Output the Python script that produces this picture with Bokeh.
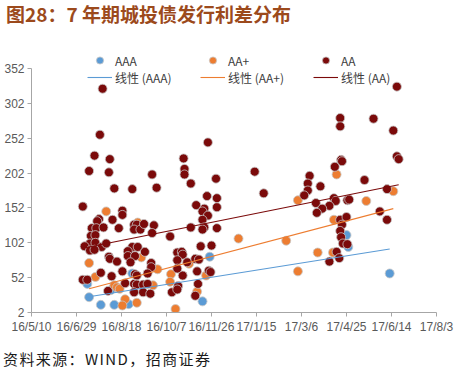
import numpy as np
import pandas as pd
from bokeh.plotting import figure
from bokeh.layouts import column
from bokeh.models import Range1d, FixedTicker, Legend, LegendItem, Div
from bokeh.embed import file_html
from bokeh.resources import INLINE

# ---------------- data (x = days since 2016-05-10, y = spread in bp) ----------------
base_date = "2016-05-10"
tick_dates = ["2016-05-10", "2016-06-29", "2016-08-18", "2016-10-07", "2016-11-26",
              "2017-01-15", "2017-03-06", "2017-04-25", "2017-06-14", "2017-08-03"]
tick_labels = ["16/5/10", "16/6/29", "16/8/18", "16/10/7", "16/11/26",
               "17/1/15", "17/3/6", "17/4/25", "17/6/14", "17/8/3"]
y_ticks = [2, 52, 102, 152, 202, 252, 302, 352]

aaa_days = [62, 64, 77, 92, 108, 112, 198, 190, 350, 352, 398, 88]
aaa_spread = [43, 24, 13, 13, 14, 58, 82, 18, 113, 96, 58, 34]

aap_days = [83, 118, 64, 122, 71, 140, 155, 92, 95, 98, 135, 154, 104, 101, 117,
            160, 175, 194, 230, 283, 184, 296, 339, 372, 402, 336, 318, 335, 296]
aap_spread = [147, 131, 73, 81, 53, 64, 57, 41, 38, 36, 41, 46, 21, 12, 16,
              7, 72, 55, 108, 105, 32, 163, 200, 162, 176, 135, 88, 88, 61]

aa_days = [79, 76, 70, 87, 64, 86, 134, 92, 112, 139, 57,
           196, 169, 170, 170, 205, 177, 248, 195, 206, 258,
           101, 101, 75, 73, 90, 114, 117, 136, 67, 72, 80, 97, 114, 121, 134, 66, 71, 154,
           65, 71, 59, 78, 83, 65, 70, 112, 118, 107, 86, 87, 107, 115, 95, 110, 133, 133,
           101, 77, 89, 115, 117, 129, 57, 62, 104, 114, 117, 124, 129, 85, 114, 124, 132, 156, 163,
           183, 206, 192, 190, 196, 190, 192, 190, 177, 206, 188, 200, 162, 167, 168, 162, 173,
           182, 186, 168, 184, 197, 199, 185, 162, 182,
           406, 343, 343, 380, 402, 406, 408, 344, 345, 337, 309, 307, 307, 321, 303, 370, 395,
           316, 336, 338, 331, 323, 317, 351, 353, 387, 395, 343, 350, 345, 343, 344, 346, 351,
           339, 331, 342,
           126, 125, 162]
aa_spread = [323, 257, 227, 222, 205, 203, 200, 180, 179, 181, 154,
             246, 223, 208, 200, 194, 187, 204, 169, 166, 173,
             148, 142, 136, 133, 135, 128, 128, 127, 123, 123, 124, 123, 121, 121, 116, 112, 113, 111,
             101, 102, 97, 96, 101, 91, 92, 96, 96, 90, 82, 79, 83, 83, 75, 74, 73, 67,
             61, 59, 54, 57, 55, 58, 49, 49, 44, 43, 42, 42, 43, 33, 31, 31, 29, 31, 40,
             156, 153, 151, 147, 141, 135, 124, 121, 124, 123, 97, 98, 88, 89, 85, 77, 74,
             79, 78, 55, 61, 62, 60, 43, 35, 26,
             326, 281, 269, 280, 263, 226, 222, 221, 219, 211, 198, 187, 177, 183, 170, 192, 179,
             159, 166, 162, 155, 151, 145, 163, 164, 147, 135, 135, 139, 128, 119, 110, 101, 100,
             89, 75, 80,
             89, 129, 65]

series_names = ["AAA", "AA+", "AA"]
series_colors = ["#5B9BD5", "#ED7D31", "#7B0A0A"]

title_text = "图28：7 年期城投债发行利差分布"
source_text = "资料来源：WIND，招商证券"

# ---------------- layout ----------------
W = 455
TITLE_H = 28
FIG_H = 319
SRC_H = 370 - TITLE_H - FIG_H
ML, MR, MT, MB = 31, 19, 22, 35
FH = FIG_H - MT - MB
# frame extends above the last tick (352) so the legend sits inside it
Y_TOP = y_ticks[0] + FH * (y_ticks[-1] - y_ticks[0]) / (FH - 18)

base = pd.Timestamp(base_date)
tick_pos = [int((pd.Timestamp(d) - base).days) for d in tick_dates]

p = figure(width=W, height=FIG_H, output_backend="svg", toolbar_location=None,
           x_range=Range1d(tick_pos[0], tick_pos[-1]), y_range=Range1d(y_ticks[0], Y_TOP),
           min_border_left=ML, min_border_right=MR, min_border_top=MT, min_border_bottom=MB,
           margin=0)
p.outline_line_color = None
p.xgrid.visible = False
p.ygrid.visible = False
p.background_fill_color = "white"
p.border_fill_color = "white"

for ax in (p.xaxis[0], p.yaxis[0]):
    ax.axis_line_color = "#A6A6A6"
    ax.major_tick_line_color = "#A6A6A6"
    ax.minor_tick_line_color = None
    ax.major_tick_in = 0
    ax.major_tick_out = 4
    ax.major_label_text_font = "Liberation Sans"
    ax.major_label_text_font_size = "12px"
    ax.major_label_text_color = "#595959"
    ax.major_label_standoff = 3

p.xaxis[0].ticker = FixedTicker(ticks=tick_pos)
p.xaxis[0].major_label_overrides = {tp: lab for tp, lab in zip(tick_pos, tick_labels)}
p.yaxis[0].ticker = FixedTicker(ticks=y_ticks)
p.yaxis[0].bounds = (y_ticks[0], y_ticks[-1])

data = [(aaa_days, aaa_spread), (aap_days, aap_spread), (aa_days, aa_spread)]
dots, lines = [], []
for (dx, dy), col in zip(data, series_colors):
    r = p.scatter(dx, dy, size=9, fill_color=col, line_color="#C8C8C8", line_width=0.8)
    dots.append(r)
for (dx, dy), col in zip(data, series_colors):
    x = np.array(dx, float)
    y = np.array(dy, float)
    k, b = np.polyfit(x, y, 1)
    xs = np.array([x.min(), x.max()])
    l = p.line(xs, k * xs + b, line_color=col, line_width=1.1)
    lines.append(l)

leg_kw = dict(orientation="horizontal", glyph_width=25, glyph_height=18, label_height=18,
              label_width=85, label_standoff=3, spacing=0, padding=0, margin=0,
              border_line_color=None, background_fill_alpha=0,
              label_text_font="Noto Sans CJK SC", label_text_font_size="12px",
              label_text_color="#404040")
leg1 = Legend(items=[LegendItem(label=n, renderers=[r]) for n, r in zip(series_names, dots)],
              location=(56, FH - 19), **leg_kw)
leg2 = Legend(items=[LegendItem(label="线性 (%s)" % n, renderers=[l]) for n, l in zip(series_names, lines)],
              location=(56, FH - 36), **leg_kw)
p.add_layout(leg1, "center")
p.add_layout(leg2, "center")

title_div = Div(
    text=('<div style="position:relative;width:100%%;height:%dpx;">'
          '<div style="position:absolute;left:0;right:0;top:24.5px;height:1.5px;background:#8B2E2E;"></div>'
          '<div style="position:absolute;left:6px;top:0;font-family:\'Noto Sans CJK SC\';font-weight:bold;'
          'font-size:19px;line-height:normal;color:#9C4A1C;white-space:nowrap;">%s</div></div>')
         % (TITLE_H, title_text),
    width=W, height=TITLE_H, margin=0)
source_div = Div(
    text=('<div style="position:relative;width:100%%;height:%dpx;">'
          '<div style="position:absolute;left:0;right:0;top:3.5px;height:1.5px;background:#8B2E2E;"></div>'
          '<div style="position:absolute;left:3px;top:1px;font-family:\'Noto Sans CJK SC\';'
          'font-size:15px;line-height:normal;letter-spacing:1.4px;color:#1A1A1A;white-space:nowrap;">%s</div></div>')
         % (SRC_H, source_text),
    width=W, height=SRC_H, margin=0)

layout = column(title_div, p, source_div, spacing=0)
open("out.html", "w").write(file_html(layout, INLINE))
